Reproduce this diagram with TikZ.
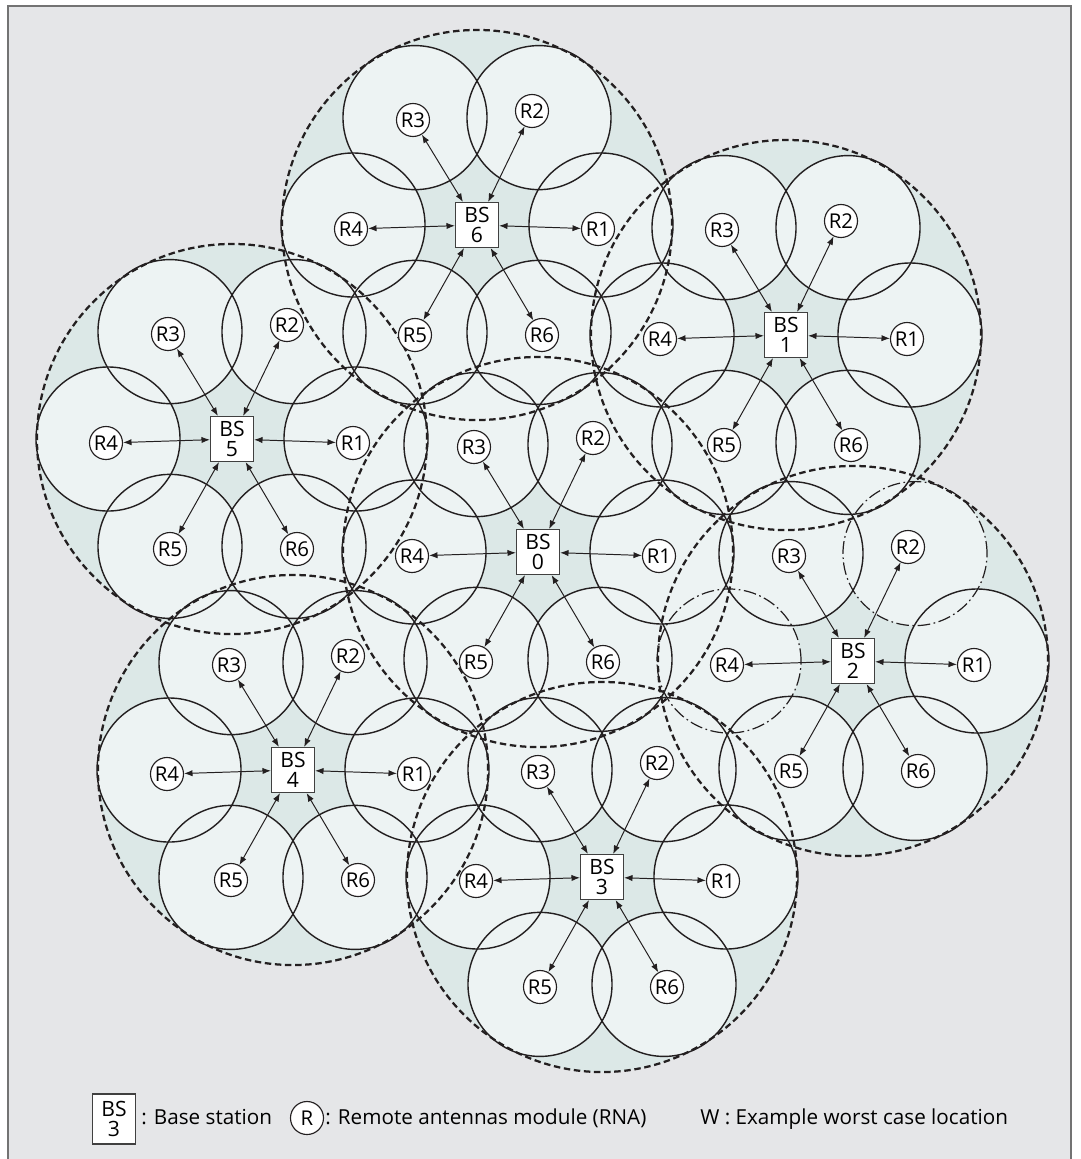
\documentclass[tikz,border=0pt]{standalone}
\usepackage{fontspec}
\setmainfont{Open Sans}
\usetikzlibrary{arrows.meta,calc}

\definecolor{bggray}{HTML}{E5E6E8}
\definecolor{gapfill}{HTML}{DCE8E7}
\definecolor{cellfill}{HTML}{EDF3F3}
\definecolor{ink}{HTML}{231F20}

\begin{document}
\begin{tikzpicture}[x=0.025cm, y=-0.025cm,
    bs/.style={draw=black!75, fill=white, line width=0.8pt, minimum width=1.075cm, minimum height=1.125cm,
      inner sep=0pt, align=center, font=\fontsize{15}{14.5}\selectfont},
    rna/.style={draw=ink, fill=white, circle, line width=0.8pt, minimum size=0.825cm, inner sep=0pt,
      font=\fontsize{14.5}{14}\selectfont},
    cell/.style={draw=ink, line width=1pt},
    cellalt/.style={draw=ink, line width=0.85pt, dash pattern=on 9pt off 2.5pt on 1.2pt off 2.5pt},
    cluster/.style={draw=ink, line width=1.6pt, dash pattern=on 4.6pt off 2.6pt},
    link/.style={<->, line width=0.7pt, draw=ink},
    legend/.style={font=\fontsize{14.7}{14}\selectfont, inner sep=0pt, anchor=base west},
    >={Latex[length=6pt,width=4.5pt]}
  ]
    \useasboundingbox (0,0) rectangle (1080,1159);
    \fill[bggray] (8,6) rectangle (1071,1159);
    \draw[black!55, line width=1.1pt] (8,1159) -- (8,6) -- (1071,6) -- (1071,1159);

    % base station clusters: number/x/y
    \def\clusters{0/538/552, 1/786/335, 2/853/661, 3/602/877, 4/293/770, 5/232/439, 6/477/225}

    \foreach \n/\x/\y in \clusters
      \fill[gapfill] (\x,\y) circle[radius=4.875cm];
    \foreach \n/\x/\y in \clusters
      \foreach \a in {0,60,...,300}
        \fill[cellfill] ($(\x,\y)+(\a:124)$) circle[radius=1.8cm];
    \foreach \n/\x/\y in \clusters
      \foreach \a in {0,60,...,300}{
        \def\sty{cell}
        \ifnum\n=2 \ifnum\a=180 \def\sty{cellalt}\fi \ifnum\a=300 \def\sty{cellalt}\fi\fi
        \draw[\sty] ($(\x,\y)+(\a:124)$) circle[radius=1.8cm];
      }
    \foreach \n/\x/\y in \clusters
      \draw[cluster] (\x,\y) circle[radius=4.875cm];

    % stations, antenna modules and links
    \foreach \n/\x/\y in \clusters{
      \node[bs] (bs\n) at (\x,\y) {BS\\\n};
      \foreach \k/\dx/\dy in {1/121/4, 2/55/-114, 3/-64/-105, 4/-126/4, 5/-62/110, 6/65/110}{
        \node[rna] (rna\n\k) at ($(\x,\y)+(\dx,\dy)$) {R\k};
        \draw[link] (bs\n) -- (rna\n\k);
      }
    }

    % legend
    \node[bs, minimum height=1.25cm] (keybs) at (114,1119) {BS\\3};
    \node[legend] (keybstxt) at (141,1124) {: Base station};
    \node[rna] (keyrna) at (307,1118) {R};
    \node[legend] (keyrnatxt) at (325,1124) {: Remote antennas module (RNA)};
    \node[legend] (keyw) at (700,1124) {W : Example worst case location};
  \end{tikzpicture}
\end{document}
